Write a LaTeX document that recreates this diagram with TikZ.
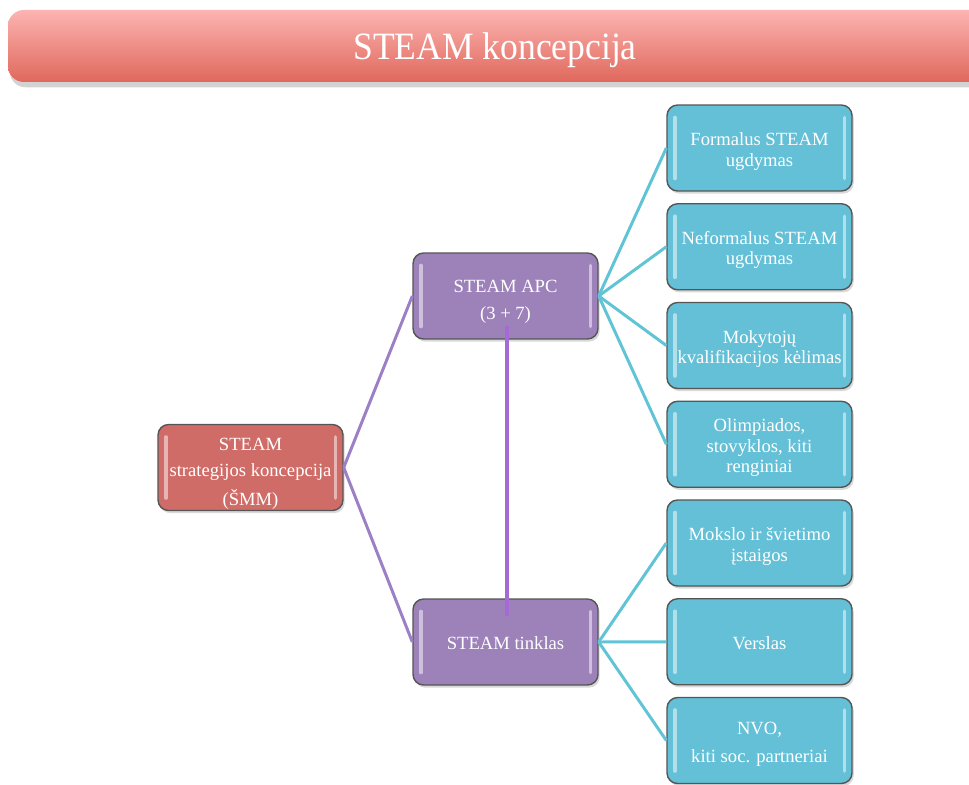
\documentclass[tikz,border=0pt]{standalone}
\usepackage{fontspec}
\setmainfont{Liberation Serif}
\usetikzlibrary{shadows}

\definecolor{rootred}{RGB}{207,108,104}
\definecolor{apcpurple}{RGB}{157,130,186}
\definecolor{leafcyan}{RGB}{100,192,214}
\definecolor{edgegray}{RGB}{85,85,85}
\definecolor{titletop}{RGB}{252,180,178}
\definecolor{titlebot}{RGB}{224,104,92}
\definecolor{purpleline}{RGB}{156,128,198}
\definecolor{spineline}{RGB}{166,106,212}
\definecolor{cyanline}{RGB}{96,196,214}

% text of a box, set a little lower than the box centre
\newcommand{\boxtext}[2]{\raisebox{#1}[\height][\depth]{\begin{tabular}{@{}c@{}}#2\end{tabular}}}

\tikzset{
  box/.style={draw=edgegray, line width=0.8pt, rounded corners=6pt,
    minimum width=3.7cm, minimum height=1.72cm, inner sep=1pt,
    text=white, font=\fontsize{10.6}{11.6}\selectfont,
    drop shadow={opacity=.3, shadow xshift=1pt, shadow yshift=-1.5pt},
    path picture={
      \draw[white, opacity=.5, line width=1.8pt, line cap=round]
        ([xshift=4.5pt,yshift=-7pt]path picture bounding box.north west) --
        ([xshift=4.5pt,yshift=7pt]path picture bounding box.south west);
      \draw[white, opacity=.5, line width=1.8pt, line cap=round]
        ([xshift=-4.5pt,yshift=-7pt]path picture bounding box.north east) --
        ([xshift=-4.5pt,yshift=7pt]path picture bounding box.south east);
    }},
  rootbox/.style={box, fill=rootred},
  midbox/.style={box, fill=apcpurple},
  leafbox/.style={box, fill=leafcyan},
  midlink/.style={purpleline, line width=1.7pt},
  leaflink/.style={cyanline, line width=1.7pt}
}

\begin{document}
\begin{tikzpicture}[x=0.02cm, y=-0.02cm]
\clip (0,0) rectangle (969,784);

% title bar
\path[top color=titletop, bottom color=titlebot, rounded corners=9pt,
  drop shadow={opacity=.35, shadow xshift=1pt, shadow yshift=-3pt}]
  (8,10) rectangle (1010,82);
\node[text=white, font=\fontsize{22}{26}\selectfont, xscale=.92] (title) at (495,50) {STEAM koncepcija};

% nodes
\node[rootbox] (root) at (250.5,467.5) {\boxtext{-3.5pt}{STEAM\\[3.5pt]strategijos koncepcija\\[3.5pt](ŠMM)}};
\node[midbox] (apc) at (505.5,296) {\boxtext{-3.5pt}{STEAM APC\\[4pt](3 + 7)}};
\node[midbox] (tinklas) at (505.5,642) {\boxtext{-2pt}{STEAM tinklas}};

\foreach \txt [count=\i] in {{Formalus STEAM\\ugdymas},
    {Neformalus STEAM\\ugdymas},
    {Mokytojų\\kvalifikacijos kėlimas},
    {Olimpiados,\\stovyklos, kiti\\renginiai},
    {Mokslo ir švietimo\\įstaigos},
    {Verslas},
    {NVO,\\[4pt]kiti soc. partneriai}}
  \node[leafbox] (leaf\i) at (759.5,{148+98.75*(\i-1)}) {\boxtext{-2.2pt}{\txt}};

% connectors
\draw[midlink] (root.east) -- (apc.west);
\draw[midlink] (root.east) -- (tinklas.west);
\draw[spineline, line width=2.2pt] ([xshift=1pt,yshift=8pt]apc.south) -- ([xshift=1pt,yshift=-10pt]tinklas.north);
\foreach \i in {1,...,4}
  \draw[leaflink] (apc.east) -- (leaf\i.west);
\foreach \i in {5,6,7}
  \draw[leaflink] (tinklas.east) -- (leaf\i.west);
\end{tikzpicture}
\end{document}
